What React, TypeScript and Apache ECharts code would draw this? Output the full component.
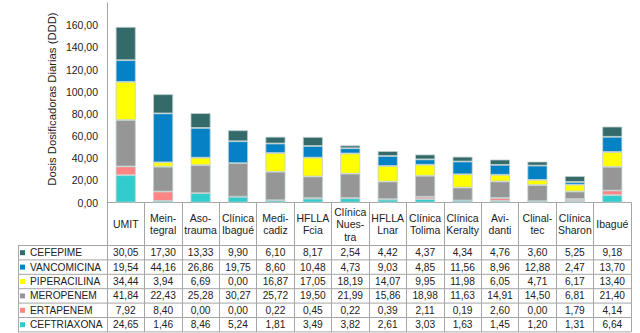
import React, { useEffect, useRef } from "react";
import * as echarts from "echarts";

const categories = [
  "UMIT", "Mein-\ntegral", "Aso-\ntrauma", "Clínica\nIbagué", "Medi-\ncadiz",
  "HFLLA\nFcia", "Clínica\nNues-\ntra", "HFLLA\nLnar", "Clínica\nTolima",
  "Clínica\nKeralty", "Avi-\ndanti", "Clinal-\ntec", "Clínica\nSharon", "Ibagué",
];

const cefepime = [30.05, 17.3, 13.33, 9.9, 6.1, 8.17, 2.54, 4.42, 4.37, 4.34, 4.76, 3.6, 5.25, 9.18];
const vancomicina = [19.54, 44.16, 26.86, 19.75, 8.6, 10.48, 4.73, 9.03, 4.85, 11.56, 8.96, 12.88, 2.47, 13.7];
const piperacilina = [34.44, 3.94, 6.69, 0.0, 16.87, 17.05, 18.19, 14.07, 9.95, 11.98, 6.05, 4.71, 6.17, 13.4];
const meropenem = [41.84, 22.43, 25.28, 30.27, 25.72, 19.5, 21.99, 15.86, 18.98, 11.63, 14.91, 14.5, 6.81, 21.4];
const ertapenem = [7.92, 8.4, 0.0, 0.0, 0.22, 0.45, 0.22, 0.39, 2.11, 0.19, 2.6, 0.0, 1.79, 4.14];
const ceftriaxona = [24.65, 1.46, 8.46, 5.24, 1.81, 3.49, 3.82, 2.61, 3.03, 1.63, 1.45, 1.2, 1.31, 6.64];

// table order (top to bottom)
const tableRows = [
  { name: "CEFEPIME", data: cefepime, color: "#346a6a" },
  { name: "VANCOMICINA", data: vancomicina, color: "#0581c6" },
  { name: "PIPERACILINA", data: piperacilina, color: "#ffff00" },
  { name: "MEROPENEM", data: meropenem, color: "#969696" },
  { name: "ERTAPENEM", data: ertapenem, color: "#ff8585" },
  { name: "CEFTRIAXONA", data: ceftriaxona, color: "#33cccc" },
];

const yTitle = "Dosis Dosificadoras Diarias (DDD)";

const fmt = (v: number) => v.toFixed(2).replace(".", ",");
const FONT = "'Liberation Sans', Arial, sans-serif";

export default function App() {
  const ref = useRef<HTMLDivElement>(null);
  useEffect(() => {
    if (!ref.current) return;
    const chart = echarts.init(ref.current, null, { renderer: "svg" });

    const gridLeft = 107;
    const gridRight = 9;
    const gridTop = 3;
    const axisY = 202.5;
    const tableTop = 245.5;
    const rowH = 14.4;
    const tableLeft = 18;
    const tableRight = 640 - gridRight;
    const tableBottom = tableTop + rowH * tableRows.length;

    const lineStyle = { stroke: "#a6a6a6", lineWidth: 1 };
    const graphics: any[] = [];
    for (let k = 0; k <= tableRows.length; k++) {
      const y = tableTop + rowH * k;
      graphics.push({
        type: "line",
        shape: { x1: tableLeft, y1: y, x2: tableRight, y2: y },
        style: lineStyle,
        silent: true,
      });
    }
    graphics.push({
      type: "line",
      shape: { x1: tableLeft + 0.5, y1: tableTop, x2: tableLeft + 0.5, y2: tableBottom },
      style: lineStyle,
      silent: true,
    });
    graphics.push({
      type: "text",
      x: 51.5,
      y: 99,
      rotation: Math.PI / 2,
      style: {
        text: yTitle,
        fontFamily: FONT,
        fontSize: 11.3,
        fill: "#222",
        align: "center",
        verticalAlign: "middle",
      },
      silent: true,
    });

    const tableAxes = tableRows.map((row, k) => ({
      type: "category",
      data: categories,
      gridIndex: 0,
      position: "bottom",
      offset: 0,
      axisLine: { show: false },
      axisTick: { show: false },
      splitLine: { show: false },
      axisLabel: {
        interval: 0,
        margin: tableTop - axisY + rowH * k + rowH / 2,
        verticalAlign: "middle",
        fontFamily: FONT,
        fontSize: 10.2,
        color: "#222",
        formatter: (_v: string, idx: number) => fmt(row.data[idx]),
      },
    }));

    const stackOrder = [...tableRows].reverse();

    chart.setOption({
      animation: false,
      backgroundColor: "#ffffff",
      grid: {
        left: gridLeft,
        right: gridRight,
        top: gridTop,
        bottom: 333 - axisY,
        containLabel: false,
        outerBoundsMode: "none",
      },
      legend: {
        orient: "vertical",
        left: 20,
        top: tableTop,
        itemWidth: 5,
        itemHeight: 5,
        itemGap: 0,
        padding: 0,
        selectedMode: false,
        icon: "rect",
        itemStyle: { borderWidth: 0 },
        data: tableRows.map((r) => r.name),
        textStyle: {
          fontFamily: FONT,
          fontSize: 10.2,
          color: "#222",
          lineHeight: rowH,
          height: rowH,
        },
      },
      xAxis: [
        {
          type: "category",
          data: categories,
          gridIndex: 0,
          position: "bottom",
          axisLine: { show: true, lineStyle: { color: "#a6a6a6", width: 1 } },
          axisTick: {
            show: true,
            length: tableBottom - axisY,
            lineStyle: { color: "#a6a6a6", width: 1 },
          },
          axisLabel: {
            interval: 0,
            margin: (tableTop - axisY) / 2,
            verticalAlign: "middle",
            fontFamily: FONT,
            fontSize: 10.5,
            lineHeight: 12.5,
            color: "#222",
          },
        },
        ...tableAxes,
      ],
      yAxis: {
        type: "value",
        min: 0,
        max: 180,
        interval: 20,
        axisLine: { show: true, lineStyle: { color: "#a6a6a6", width: 1 } },
        axisTick: { show: false },
        splitLine: { show: false },
        axisLabel: {
          margin: 9,
          fontFamily: FONT,
          fontSize: 10.5,
          color: "#222",
          formatter: (v: number) => (v >= 180 ? "" : fmt(v)),
        },
      },
      series: stackOrder.map((row) => ({
        type: "bar",
        name: row.name,
        stack: "total",
        data: row.data,
        barWidth: 20,
        itemStyle: {
          color: row.color,
          borderColor: "#bfcfcf",
          borderWidth: 0.8,
        },
      })),
      graphic: graphics,
    });

    return () => chart.dispose();
  }, []);

  return (
    <div
      ref={ref}
      style={{ position: "fixed", left: 0, top: 0, width: 640, height: 333 }}
    />
  );
}
